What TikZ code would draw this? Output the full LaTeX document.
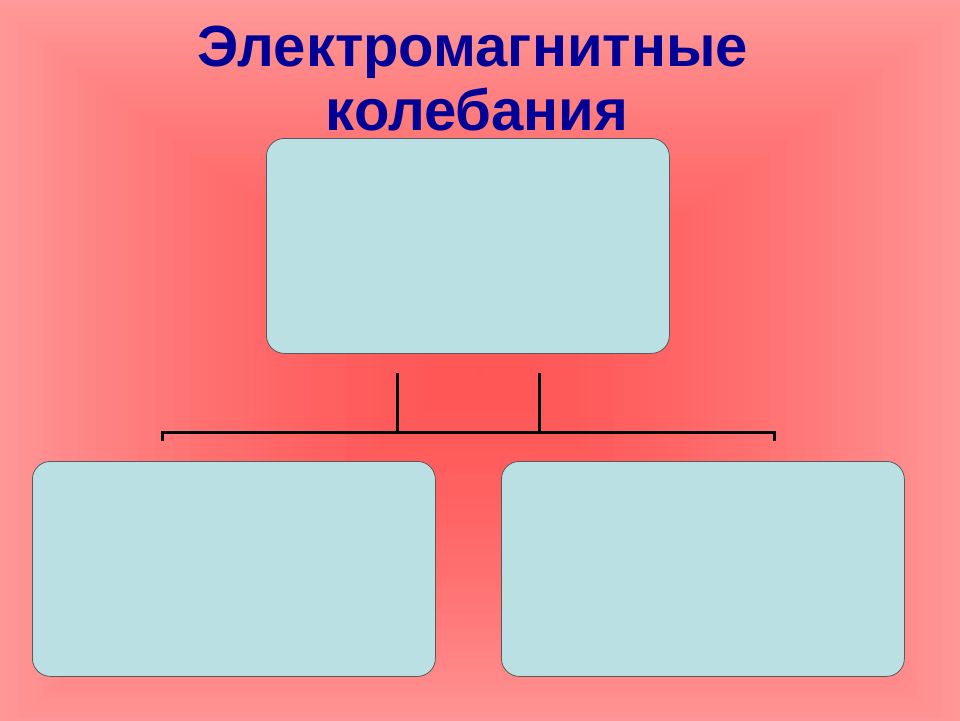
\documentclass[tikz,border=0pt]{standalone}
\usepackage{fontspec}
\setmainfont{Liberation Sans}
\definecolor{bgout}{RGB}{255,160,160}
\definecolor{bgin}{RGB}{255,85,85}
\definecolor{boxfill}{RGB}{187,224,227}
\definecolor{boxline}{RGB}{90,90,90}
\definecolor{titleblue}{RGB}{0,0,150}
\begin{document}
\begin{tikzpicture}[x=1pt,y=-1pt,
  panel/.style={draw=boxline, line width=0.8pt, fill=boxfill, rounded corners=18pt,
    minimum width=403pt, minimum height=215pt, inner sep=0pt, anchor=north west},
  link/.style={line width=3pt, draw=black},
  titletext/.style={font=\bfseries\fontsize{58}{63}\selectfont, text=titleblue, anchor=base, inner sep=0pt}]
\useasboundingbox (0,0) rectangle (960,720);
\begin{scope}
\clip (0,0) rectangle (960,720);
\foreach \i in {0,...,60} {
  \pgfmathtruncatemacro\p{100*(1-(1-\i/60)^1.6)}
  \pgfmathsetmacro\hw{520*(1-\i/60)+4}
  \pgfmathsetmacro\hh{390*(1-\i/60)+3}
  \fill[bgin!\p!bgout] (480-\hw,370-\hh) rectangle (480+\hw,370+\hh);
}
\end{scope}
\node[titletext] (title1) at (473,66) {Электромагнитные};
\node[titletext] (title2) at (477,130) {колебания};
\node[panel] (top) at (266,138) {};
\node[panel] (left) at (32,461) {};
\node[panel] (right) at (501,461) {};
\coordinate (v1t) at (397,373);
\coordinate (v1b) at (397,432);
\coordinate (v2t) at (539,373);
\coordinate (v2b) at (539,432);
\coordinate (hl) at (162,432);
\coordinate (hr) at (774,432);
\coordinate (tl) at (162,441);
\coordinate (tr) at (774,441);
\draw[link] (v1t) -- (v1b);
\draw[link] (v2t) -- (v2b);
\draw[link] (tl) -- (hl) -- (hr) -- (tr);
\end{tikzpicture}
\end{document}
